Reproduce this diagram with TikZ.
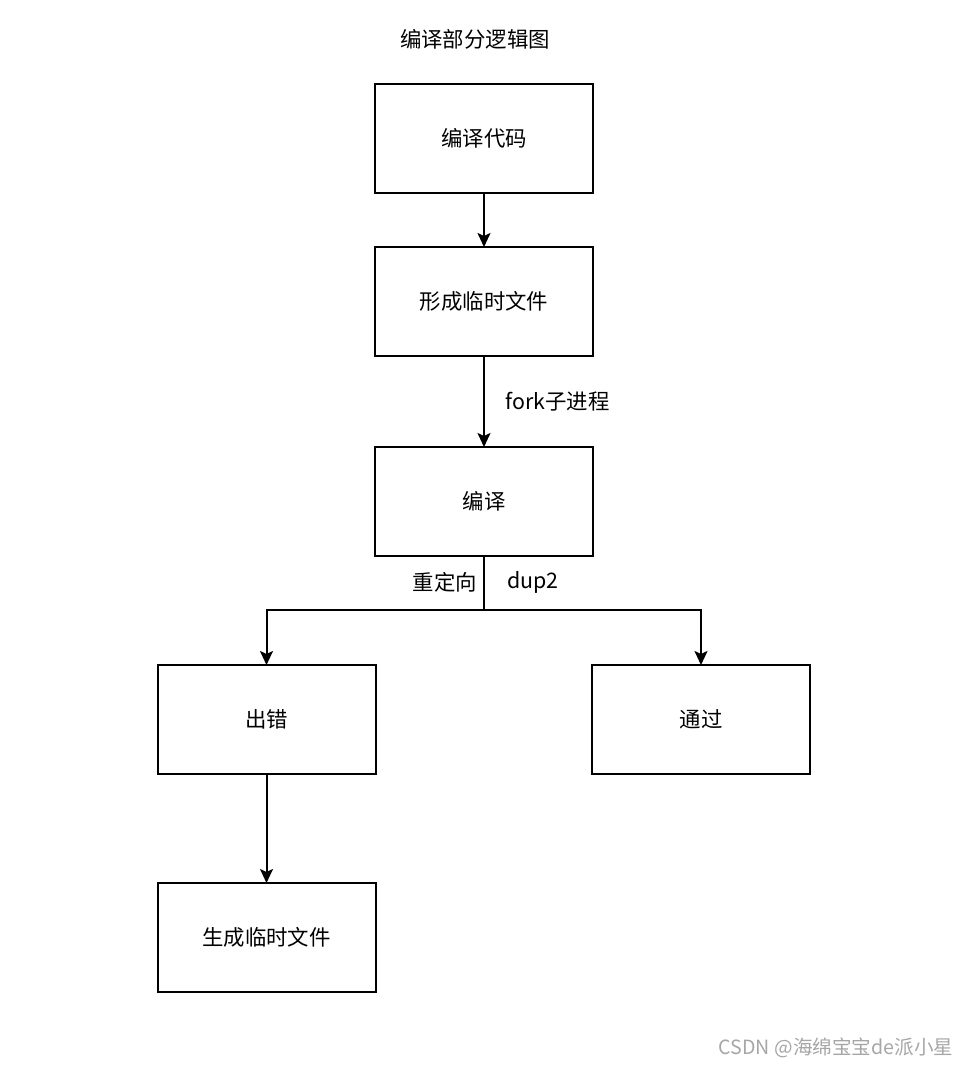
\documentclass[tikz,border=0pt]{standalone}
\usepackage{fontspec}
\setmainfont{Noto Sans CJK SC}
\usetikzlibrary{positioning,calc,arrows.meta}

\tikzset{
    stepbox/.style={draw, line width=1pt, minimum width=109pt, minimum height=54.5pt, inner sep=0pt, outer sep=0pt},
    flow/.style={-{Stealth[length=7pt,width=6.5pt,inset=1.5pt]}, line width=1pt},
}

\begin{document}
\begin{tikzpicture}[every node/.style={font=\fontsize{10.7}{13}\selectfont, align=center}]
        \useasboundingbox (0,0) rectangle (484.5pt,-533.5pt);

        \node (title) at (237.5pt,-19.5pt) {编译部分逻辑图};

        \node[stepbox] (code) at (242pt,-69.25pt) {编译代码};
        \node[stepbox, below=27pt of code] (tmpfile) {形成临时文件};
        \node[stepbox, below=45.5pt of tmpfile] (compile) {编译};
        \node[stepbox, below=54.5pt of compile, xshift=-108.75pt] (error) {出错};
        \node[stepbox, below=54.5pt of compile, xshift=108.5pt] (pass) {通过};
        \node[stepbox, below=54.5pt of error] (gentmp) {生成临时文件};

        \draw[flow] (code) -- (tmpfile);
        \draw[flow] (tmpfile) -- node[right=7pt] {fork子进程} (compile);

        % split into the two results
        \coordinate (split) at ($(compile.south)+(0,-27pt)$);
        \draw[line width=1pt] (compile.south) -- (split);
        \draw[flow] (split) -| (error);
        \draw[flow] (split) -| (pass);
        \node[anchor=east] (redirect) at ($(compile.south)+(0pt,-13pt)$) {重定向};
        \node[anchor=west] (dup) at ($(compile.south)+(8pt,-13pt)$) {dup2};

        \draw[flow] (error) -- (gentmp);

        \node[text=gray!70, font=\fontsize{9.8}{11}\selectfont] (mark) at (418pt,-524pt) {CSDN @海绵宝宝de派小星};
    \end{tikzpicture}
\end{document}
